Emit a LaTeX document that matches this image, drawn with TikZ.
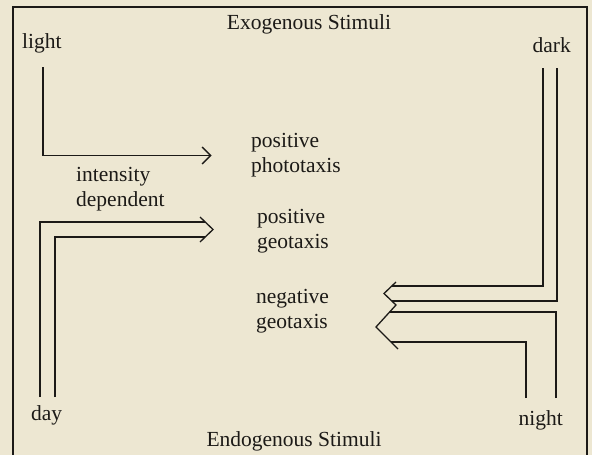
\documentclass[tikz,border=0pt]{standalone}
\usepackage{fontspec}
\setmainfont{Liberation Serif}
\usepackage{xcolor}
\usepackage{tikz}
\usetikzlibrary{arrows.meta,positioning,calc}
\definecolor{paperTone}{HTML}{EDE7D2}
\definecolor{inkGray}{HTML}{1C1A17}

\begin{document}
\begin{tikzpicture}[
  x=1pt, y=-1pt,
  label/.style={inner sep=0pt, text=inkGray, font=\fontsize{21.5}{25}\selectfont},
  twoline/.style={label, align=left, anchor=base west},
  rule/.style={draw=inkGray, line width=1.3pt},
  arrow/.style={rule, -{Straight Barb[length=8.5pt, width=17pt, line width=1.3pt]}}
]
\path[use as bounding box, fill=paperTone] (0,0) rectangle (592,455);
\draw[rule] (13,460) -- (13,7) -- (587,7) -- (587,460);

% stimuli
\node[label, anchor=base] (exo) at (309,29) {Exogenous Stimuli};
\node[label, anchor=base] (endo) at (294,446) {Endogenous Stimuli};
\node[label, anchor=base west] (light) at (22,48) {light};
\node[label, anchor=base east] (dark) at (571,52) {dark};
\node[label, anchor=base west] (day) at (31,420) {day};
\node[label, anchor=base east] (night) at (563,425) {night};

% responses (base = last line)
\node[twoline] (intensity) at (76,206) {intensity\\dependent};
\node[twoline] (photo) at (251,172) {positive\\phototaxis};
\node[twoline] (posgeo) at (257,248) {positive\\geotaxis};
\node[twoline] (neggeo) at (256,328) {negative\\geotaxis};

% light
\coordinate (lightStart) at (43,67);
\coordinate (lightTip) at (211.5,155.5);
\draw[arrow] (lightStart) |- (lightTip);

% day
\coordinate (dayOut) at (40,397);
\coordinate (dayIn) at (55,397);
\coordinate (dayTip) at (213,229.5);
\draw[rule] (dayOut) |- ($(dayTip)+(-8,-7.5)$);
\draw[rule] (dayIn) |- ($(dayTip)+(-8,7.5)$);
\draw[rule] ($(dayTip)+(-13,-12.5)$) -- (dayTip) -- ($(dayTip)+(-13,12.5)$);

% dark
\coordinate (darkIn) at (543,68);
\coordinate (darkOut) at (557,68);
\coordinate (darkTip) at (384,293.5);
\draw[rule] (darkIn) |- ($(darkTip)+(8,-7.5)$);
\draw[rule] (darkOut) |- ($(darkTip)+(8,7.5)$);

% night
\coordinate (nightOut) at (556,398);
\coordinate (nightIn) at (526,398);
\coordinate (nightTip) at (376,327);
\draw[rule] (nightOut) |- ($(nightTip)+(13.5,-15)$);
\draw[rule] (nightIn) |- ($(nightTip)+(15,15)$);

\draw[rule] ($(darkTip)+(12,-11.5)$) -- (darkTip) -- ($(darkTip)+(12,11.5)$)
  -- (nightTip) -- ($(nightTip)+(22,22)$);
\end{tikzpicture}
\end{document}
